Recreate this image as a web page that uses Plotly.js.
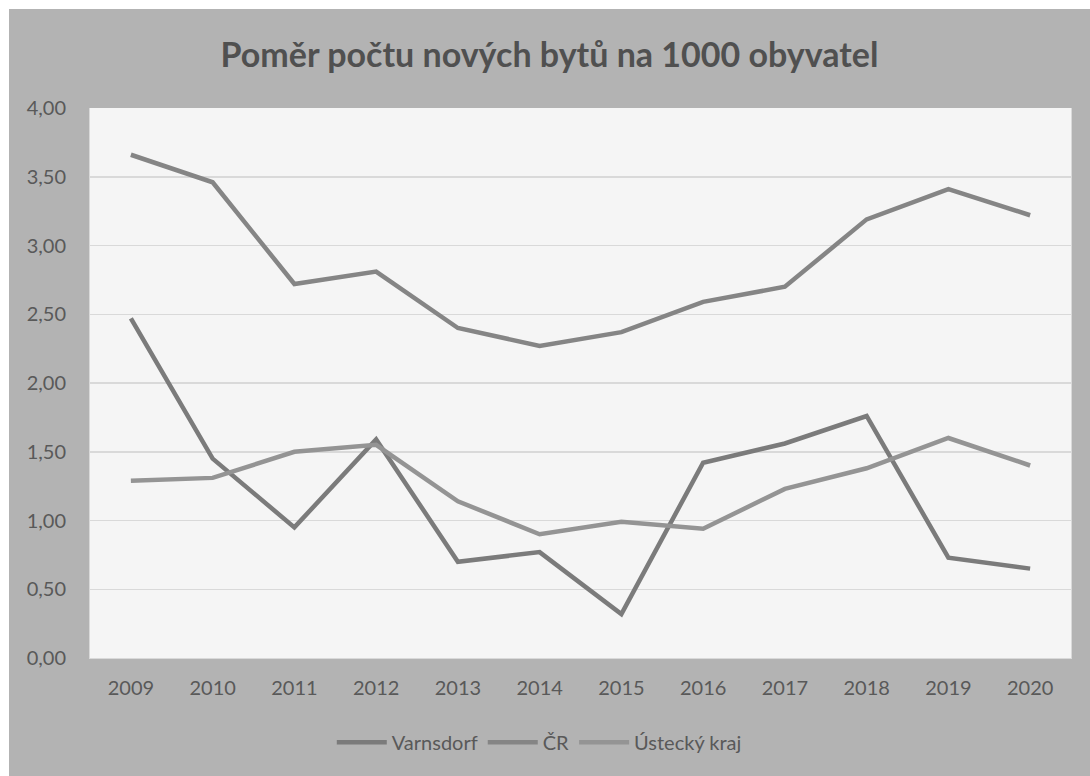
<!DOCTYPE html>
<html>
<head>
<meta charset="utf-8">
<script src="https://cdn.plot.ly/plotly-3.0.1.min.js"></script>
<style>
html,body{margin:0;padding:0;background:#ffffff;width:1090px;height:776px;overflow:hidden;}
#chart{position:absolute;left:9px;top:9px;width:1081px;height:767px;}
</style>
</head>
<body>
<div id="chart"></div>
<script>
const years = ['2009','2010','2011','2012','2013','2014','2015','2016','2017','2018','2019','2020'];
const varnsdorf = [2.47, 1.45, 0.95, 1.59, 0.70, 0.77, 0.32, 1.42, 1.56, 1.76, 0.73, 0.65];
const cr = [3.66, 3.46, 2.72, 2.81, 2.40, 2.27, 2.37, 2.59, 2.70, 3.19, 3.41, 3.22];
const ustecky = [1.29, 1.31, 1.50, 1.55, 1.14, 0.90, 0.99, 0.94, 1.23, 1.38, 1.60, 1.40];
const seriesNames = ['Varnsdorf', 'ČR', 'Ústecký kraj'];

const FONT = 'Lato, "Open Sans", sans-serif';
const TXT = '#595959';

const traces = [
  {x: years, y: varnsdorf, name: seriesNames[0], type: 'scatter', mode: 'lines',
   line: {color: '#7b7b7b', width: 4.5}},
  {x: years, y: cr, name: seriesNames[1], type: 'scatter', mode: 'lines',
   line: {color: '#858585', width: 4.5}},
  {x: years, y: ustecky, name: seriesNames[2], type: 'scatter', mode: 'lines',
   line: {color: '#949494', width: 4.5}}
];

const layout = {
  width: 1081, height: 767,
  paper_bgcolor: '#b3b3b3',
  plot_bgcolor: '#f5f5f5',
  separators: ', ',
  margin: {l: 81, r: 19, t: 99, b: 118},
  font: {family: FONT, color: TXT, size: 20},
  title: {text: '<b>Poměr počtu nových bytů na 1000 obyvatel</b>',
          font: {family: FONT, size: 34, color: '#505050'},
          x: 0.5, xanchor: 'center', xref: 'container',
          y: 1 - 46/767, yanchor: 'middle', yref: 'container'},
  xaxis: {type: 'category', range: [-0.5, 11.5], showgrid: false,
          showline: true, linecolor: '#d9d9d9', linewidth: 1,
          ticks: 'outside', ticklen: 12, tickcolor: 'rgba(0,0,0,0)',
          tickfont: {family: FONT, size: 20, color: TXT}, zeroline: false, fixedrange: true},
  yaxis: {range: [0, 4], dtick: 0.5, tick0: 0, tickformat: '.2f',
          showgrid: true, gridcolor: '#d9d9d9', gridwidth: 1.5,
          showline: true, linecolor: '#d9d9d9', mirror: true,
          ticks: 'outside', ticklen: 19, tickcolor: 'rgba(0,0,0,0)',
          tickfont: {family: FONT, size: 20, color: TXT}, zeroline: false, fixedrange: true},
  showlegend: true,
  legend: {orientation: 'h', x: 0.458, xanchor: 'center', y: -0.153, yanchor: 'middle',
           bgcolor: 'rgba(0,0,0,0)', font: {family: FONT, size: 20, color: TXT},
           itemwidth: 50, tracegroupgap: 0}
};

Plotly.newPlot('chart', traces, layout, {displayModeBar: false, staticPlot: true});
</script>
</body>
</html>
